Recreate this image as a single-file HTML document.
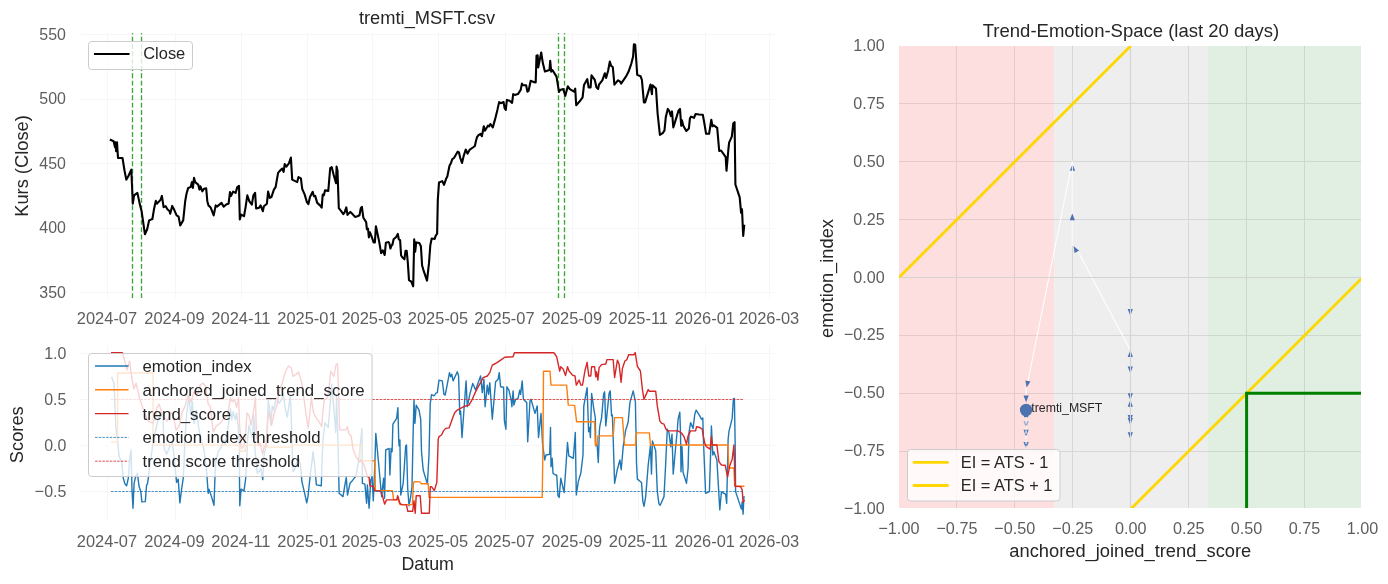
<!DOCTYPE html>
<html><head><meta charset="utf-8"><title>tremti_MSFT</title>
<style>html,body{margin:0;padding:0;background:#fff;}body{width:1388px;height:584px;overflow:hidden;font-family:"Liberation Sans",sans-serif;}svg{display:block;}</style>
</head><body>
<svg width="1388" height="584" viewBox="0 0 1388 584" font-family="Liberation Sans, sans-serif">
<rect width="1388" height="584" fill="#fff"/>
<g filter="url(#noop)">
<defs>
<filter id="noop" filterUnits="userSpaceOnUse" x="0" y="0" width="1388" height="584"><feOffset dx="0" dy="0"/></filter>
<clipPath id="c1"><rect x="81" y="33" width="694" height="265"/></clipPath>
<clipPath id="c2"><rect x="81" y="346" width="694" height="175"/></clipPath>
<clipPath id="c3"><rect x="899" y="46" width="462" height="462"/></clipPath>
</defs>
<g stroke="#f6f6f6" stroke-width="1">
<line x1="107.5" y1="33" x2="107.5" y2="298"/>
<line x1="175.5" y1="33" x2="175.5" y2="298"/>
<line x1="241.5" y1="33" x2="241.5" y2="298"/>
<line x1="307.5" y1="33" x2="307.5" y2="298"/>
<line x1="372.5" y1="33" x2="372.5" y2="298"/>
<line x1="438.5" y1="33" x2="438.5" y2="298"/>
<line x1="505.5" y1="33" x2="505.5" y2="298"/>
<line x1="572.5" y1="33" x2="572.5" y2="298"/>
<line x1="638.5" y1="33" x2="638.5" y2="298"/>
<line x1="705.5" y1="33" x2="705.5" y2="298"/>
<line x1="769.5" y1="33" x2="769.5" y2="298"/>
<line x1="81" y1="292.5" x2="775" y2="292.5"/>
<line x1="81" y1="228.5" x2="775" y2="228.5"/>
<line x1="81" y1="163.5" x2="775" y2="163.5"/>
<line x1="81" y1="99.5" x2="775" y2="99.5"/>
<line x1="81" y1="34.5" x2="775" y2="34.5"/>
</g>
<g stroke="#2ca02c" stroke-opacity="0.93" stroke-width="1.35" stroke-dasharray="4.9,2.43" stroke-dashoffset="3.63" clip-path="url(#c1)">
<line x1="132.5" y1="33" x2="132.5" y2="298"/>
<line x1="141.5" y1="33" x2="141.5" y2="298"/>
<line x1="558.5" y1="33" x2="558.5" y2="298"/>
<line x1="564.5" y1="33" x2="564.5" y2="298"/>
</g>
<path d="M110.8,140.0 L113.6,141.3 L115.0,147.2 L115.5,142.2 L116.1,151.3 L117.0,142.2 L118.0,158.0 L122.5,158.0 L124.5,170.5 L126.3,179.6 L128.3,176.3 L131.3,169.6 L132.8,203.7 L134.1,195.4 L137.4,192.9 L139.9,204.6 L141.6,211.2 L144.9,234.2 L147.1,229.5 L149.1,220.4 L152.4,219.0 L154.1,208.7 L155.8,200.9 L156.9,203.7 L160.7,199.6 L161.9,195.9 L163.6,207.1 L165.7,206.2 L167.4,209.2 L169.6,211.2 L170.2,213.7 L172.2,205.9 L174.1,209.6 L176.6,215.4 L178.6,216.6 L180.2,225.4 L183.2,220.4 L185.2,201.2 L186.5,193.8 L188.2,187.9 L190.7,187.1 L191.9,182.1 L192.9,187.9 L194.0,177.9 L195.2,182.1 L198.2,184.6 L199.4,189.6 L200.4,186.3 L202.4,191.3 L204.0,188.8 L206.2,188.4 L207.3,201.2 L208.5,205.4 L210.7,207.6 L213.7,215.4 L215.7,205.4 L217.0,206.6 L221.5,202.9 L223.7,206.7 L226.5,204.2 L228.6,203.7 L230.0,192.1 L231.1,195.9 L233.1,191.6 L235.6,192.9 L237.3,187.1 L239.0,185.9 L239.8,219.5 L241.1,214.6 L244.0,216.2 L245.6,207.1 L247.3,195.4 L249.3,201.2 L251.8,204.6 L253.4,195.4 L255.1,192.9 L256.1,208.4 L258.9,207.9 L260.6,205.4 L262.8,211.2 L263.9,206.2 L266.9,203.7 L268.1,191.6 L269.8,197.9 L271.4,197.1 L273.9,189.6 L275.6,187.1 L278.1,172.9 L280.6,170.0 L282.2,168.5 L283.6,171.8 L284.7,164.1 L286.4,166.6 L288.9,163.3 L290.9,157.6 L292.2,179.6 L297.2,182.1 L298.5,177.1 L300.9,178.4 L302.2,188.8 L304.7,194.6 L306.9,202.1 L308.4,204.1 L310.0,197.1 L312.7,191.8 L313.9,196.2 L315.2,195.9 L317.2,202.9 L320.0,205.4 L321.7,207.6 L322.7,194.6 L323.8,195.4 L325.0,190.4 L328.3,190.9 L330.2,168.0 L330.3,168.3 L331.7,167.1 L333.7,175.0 L336.0,183.3 L336.6,166.6 L337.5,170.8 L338.8,208.2 L340.8,210.7 L343.3,214.1 L344.6,212.4 L346.3,207.4 L347.5,214.9 L350.3,211.9 L352.5,214.1 L355.0,216.9 L357.5,216.2 L359.5,215.2 L360.8,208.2 L361.9,206.9 L363.3,217.4 L363.4,217.7 L366.2,222.3 L366.9,229.3 L368.0,228.5 L368.9,237.4 L370.0,232.3 L372.0,237.7 L373.6,242.4 L374.9,242.4 L375.9,226.2 L377.4,233.1 L379.3,242.4 L381.1,253.2 L382.8,250.4 L384.7,255.0 L385.9,242.7 L388.5,242.1 L389.3,243.1 L390.4,248.5 L391.6,245.4 L392.4,244.7 L393.6,239.3 L396.2,237.0 L397.8,233.9 L398.8,239.3 L400.1,240.1 L401.1,255.5 L402.8,257.8 L404.4,259.3 L405.5,250.8 L406.7,250.8 L407.8,262.4 L409.0,280.1 L411.3,281.7 L413.2,286.3 L414.2,239.3 L415.2,251.6 L416.2,242.4 L419.3,243.1 L420.9,246.2 L422.1,265.5 L423.2,269.3 L427.0,280.6 L429.0,263.2 L430.3,245.4 L431.7,238.5 L434.7,239.0 L435.8,235.4 L437.1,233.9 L437.8,199.9 L439.0,182.5 L442.3,181.1 L444.0,184.9 L446.0,179.1 L447.3,176.6 L449.5,165.8 L451.0,163.0 L452.3,159.2 L454.0,158.0 L457.6,151.7 L459.0,152.5 L460.1,157.5 L462.0,163.0 L463.6,156.2 L465.7,149.6 L466.5,151.1 L467.5,153.7 L469.8,149.6 L472.9,147.5 L474.9,146.0 L476.0,140.8 L477.0,137.2 L478.5,135.2 L480.6,133.8 L481.9,136.2 L483.8,126.2 L484.9,130.7 L487.9,125.7 L489.1,126.5 L490.4,124.0 L492.8,127.4 L494.9,119.9 L497.4,109.9 L499.1,102.1 L500.8,103.2 L503.6,102.1 L504.6,108.2 L505.8,109.9 L506.9,99.9 L509.6,100.7 L512.1,102.9 L513.2,94.1 L514.9,94.9 L517.9,94.1 L520.7,89.9 L521.9,83.6 L523.2,85.3 L526.1,85.3 L527.4,91.6 L528.6,90.8 L530.7,80.8 L533.2,81.9 L535.7,82.4 L536.5,55.8 L537.7,55.3 L538.2,67.5 L541.2,52.5 L542.9,63.3 L544.9,71.6 L549.5,70.0 L550.2,60.8 L551.2,71.6 L552.4,70.0 L556.5,76.6 L559.0,91.9 L560.2,89.9 L563.2,89.1 L565.3,95.8 L567.8,86.3 L569.8,89.1 L574.0,91.6 L575.2,88.6 L576.2,105.2 L580.6,100.2 L582.6,97.4 L584.0,84.9 L587.3,79.1 L588.6,87.4 L590.6,87.4 L591.5,75.3 L594.8,79.9 L596.5,87.4 L598.1,89.1 L599.0,84.6 L602.3,80.3 L604.8,73.3 L606.1,77.9 L608.1,70.8 L609.8,61.6 L611.1,65.8 L612.8,67.0 L614.4,84.6 L618.1,80.3 L619.8,81.3 L621.1,83.6 L626.4,75.8 L628.6,71.6 L631.4,63.3 L633.1,56.6 L633.9,44.2 L635.2,44.7 L636.4,62.5 L637.2,74.9 L640.6,76.3 L641.9,79.9 L643.9,102.4 L645.1,102.4 L650.5,84.6 L651.9,94.1 L652.5,85.3 L656.0,88.6 L657.6,113.5 L659.9,134.9 L662.7,133.2 L664.5,130.4 L665.8,117.1 L667.8,108.9 L669.4,111.4 L670.9,116.1 L672.0,111.4 L673.3,127.4 L675.0,122.2 L678.6,110.4 L680.0,108.9 L681.2,125.8 L681.9,120.2 L683.3,125.8 L686.3,131.0 L688.9,128.4 L689.9,118.6 L691.0,116.6 L694.0,117.8 L695.6,114.0 L699.2,114.5 L702.8,114.7 L704.1,121.7 L706.1,133.8 L709.1,133.8 L711.3,119.7 L712.5,126.3 L713.8,125.3 L717.2,127.9 L719.2,151.0 L721.0,150.5 L724.0,154.6 L725.7,157.1 L726.5,170.8 L728.3,150.3 L729.1,142.6 L731.8,136.6 L733.3,123.3 L734.6,122.2 L735.1,162.3 L735.4,184.5 L739.7,197.4 L741.1,212.8 L742.0,209.3 L743.2,235.9 L744.2,225.6" fill="none" stroke="#000" stroke-width="2.1" stroke-linejoin="round" stroke-linecap="square" clip-path="url(#c1)"/>
<text transform="translate(65.9,297.9) scale(0.95,1)" font-size="16.8" fill="#5e5e5e" text-anchor="end">350</text>
<text transform="translate(65.9,233.4) scale(0.95,1)" font-size="16.8" fill="#5e5e5e" text-anchor="end">400</text>
<text transform="translate(65.9,168.9) scale(0.95,1)" font-size="16.8" fill="#5e5e5e" text-anchor="end">450</text>
<text transform="translate(65.9,104.4) scale(0.95,1)" font-size="16.8" fill="#5e5e5e" text-anchor="end">500</text>
<text transform="translate(65.9,39.9) scale(0.95,1)" font-size="16.8" fill="#5e5e5e" text-anchor="end">550</text>
<text transform="translate(107.0,324.0) scale(0.978,1)" font-size="16.8" fill="#5e5e5e" text-anchor="middle">2024-07</text>
<text transform="translate(174.5,324.0) scale(0.978,1)" font-size="16.8" fill="#5e5e5e" text-anchor="middle">2024-09</text>
<text transform="translate(240.9,324.0) scale(0.978,1)" font-size="16.8" fill="#5e5e5e" text-anchor="middle">2024-11</text>
<text transform="translate(307.4,324.0) scale(0.978,1)" font-size="16.8" fill="#5e5e5e" text-anchor="middle">2025-01</text>
<text transform="translate(371.6,324.0) scale(0.978,1)" font-size="16.8" fill="#5e5e5e" text-anchor="middle">2025-03</text>
<text transform="translate(438.0,324.0) scale(0.978,1)" font-size="16.8" fill="#5e5e5e" text-anchor="middle">2025-05</text>
<text transform="translate(504.4,324.0) scale(0.978,1)" font-size="16.8" fill="#5e5e5e" text-anchor="middle">2025-07</text>
<text transform="translate(572.0,324.0) scale(0.978,1)" font-size="16.8" fill="#5e5e5e" text-anchor="middle">2025-09</text>
<text transform="translate(638.4,324.0) scale(0.978,1)" font-size="16.8" fill="#5e5e5e" text-anchor="middle">2025-11</text>
<text transform="translate(704.8,324.0) scale(0.978,1)" font-size="16.8" fill="#5e5e5e" text-anchor="middle">2026-01</text>
<text transform="translate(769.1,324.0) scale(0.978,1)" font-size="16.8" fill="#5e5e5e" text-anchor="middle">2026-03</text>
<text x="427" y="24" font-size="18.3" fill="#262626" text-anchor="middle">tremti_MSFT.csv</text>
<text transform="translate(28,166) rotate(-90)" font-size="18.3" fill="#262626" text-anchor="middle">Kurs (Close)</text>
<rect x="88.5" y="41.5" width="104" height="28" rx="3.3" fill="#fff" fill-opacity="0.8" stroke="#cccccc" stroke-width="1"/>
<line x1="95" y1="54" x2="128.5" y2="54" stroke="#000" stroke-width="2.1" stroke-linecap="square"/>
<text transform="translate(143.2,58.9) scale(0.98,1)" font-size="16.8" fill="#262626" text-anchor="start">Close</text>
<g stroke="#f6f6f6" stroke-width="1">
<line x1="107.5" y1="346" x2="107.5" y2="521"/>
<line x1="175.5" y1="346" x2="175.5" y2="521"/>
<line x1="241.5" y1="346" x2="241.5" y2="521"/>
<line x1="307.5" y1="346" x2="307.5" y2="521"/>
<line x1="372.5" y1="346" x2="372.5" y2="521"/>
<line x1="438.5" y1="346" x2="438.5" y2="521"/>
<line x1="505.5" y1="346" x2="505.5" y2="521"/>
<line x1="572.5" y1="346" x2="572.5" y2="521"/>
<line x1="638.5" y1="346" x2="638.5" y2="521"/>
<line x1="705.5" y1="346" x2="705.5" y2="521"/>
<line x1="769.5" y1="346" x2="769.5" y2="521"/>
<line x1="81" y1="491.5" x2="775" y2="491.5"/>
<line x1="81" y1="445.5" x2="775" y2="445.5"/>
<line x1="81" y1="399.5" x2="775" y2="399.5"/>
<line x1="81" y1="353.5" x2="775" y2="353.5"/>
</g>
<g clip-path="url(#c2)" fill="none" stroke-linejoin="round">
<path d="M111.6,376.8 L114.1,383.4 L115.8,426.7 L117.5,440.0 L119.1,456.6 L121.6,461.6 L123.3,478.3 L125.0,484.1 L126.6,485.8 L128.3,478.3 L130.0,456.6 L131.1,450.0 L132.0,489.9 L133.0,508.2 L134.1,483.3 L135.8,475.8 L137.4,473.3 L139.1,486.6 L140.8,491.6 L141.9,501.9 L145.3,501.6 L146.6,484.9 L147.4,484.1 L148.6,476.3 L149.9,465.0 L151.6,453.3 L153.3,440.0 L155.8,430.0 L158.2,418.4 L162.9,413.4 L163.7,436.7 L164.1,448.3 L166.6,454.1 L169.9,446.7 L172.4,443.3 L174.1,456.6 L175.7,473.3 L176.6,482.4 L178.2,479.1 L179.9,502.9 L181.5,489.9 L183.2,478.3 L184.0,465.0 L184.9,440.0 L186.5,415.0 L189.0,396.7 L190.7,415.0 L192.4,401.7 L194.0,423.4 L196.5,410.0 L199.0,430.0 L201.5,440.0 L204.0,450.0 L206.5,470.0 L208.2,493.3 L209.0,489.1 L211.5,496.6 L214.0,505.2 L214.8,481.6 L215.7,461.6 L218.2,451.6 L221.5,446.7 L224.0,440.0 L225.0,444.4 L229.1,421.1 L230.5,408.8 L231.8,419.7 L233.2,411.5 L235.3,419.7 L236.6,412.9 L238.0,425.2 L239.4,444.4 L239.5,480.8 L239.8,505.7 L241.0,489.1 L244.0,490.8 L245.6,479.1 L246.5,462.0 L247.6,438.9 L249.0,425.2 L250.3,432.0 L252.4,437.5 L253.8,415.6 L254.5,425.2 L255.0,450.0 L257.3,473.3 L258.9,471.6 L260.6,468.3 L262.8,479.6 L263.9,456.6 L266.1,445.0 L267.5,426.6 L268.2,400.5 L269.5,407.4 L270.9,425.2 L272.3,406.0 L273.6,410.1 L276.4,397.8 L279.1,403.3 L281.8,399.2 L283.2,393.7 L285.3,408.8 L287.3,417.0 L288.7,407.4 L290.1,396.4 L290.8,404.7 L291.5,425.2 L292.2,450.0 L293.1,471.6 L295.6,467.5 L298.0,456.6 L300.5,465.0 L301.9,481.6 L304.7,493.3 L306.7,502.9 L308.0,496.6 L310.5,472.5 L312.2,460.0 L313.0,451.6 L314.7,465.8 L316.4,484.9 L321.3,485.8 L322.2,456.6 L323.0,440.0 L325.0,422.6 L328.3,427.5 L331.7,384.3 L334.2,412.6 L335.8,432.5 L336.6,395.9 L338.0,443.0 L338.8,478.3 L339.1,493.3 L343.0,496.6 L344.6,486.6 L346.3,477.5 L347.5,495.0 L350.0,483.3 L351.6,481.6 L354.1,478.3 L355.8,476.3 L358.3,463.3 L360.8,440.0 L361.9,428.4 L362.4,483.3 L364.9,484.1 L366.6,503.3 L367.4,485.0 L369.1,508.3 L370.8,480.0 L372.1,476.6 L373.3,500.8 L374.9,463.3 L375.8,433.4 L378.3,460.0 L381.6,496.6 L383.6,478.3 L384.6,498.3 L385.7,450.0 L389.1,448.4 L389.9,475.0 L391.1,448.4 L392.1,451.7 L392.9,424.2 L396.6,418.4 L397.9,407.6 L398.7,439.2 L399.1,445.9 L399.9,440.0 L400.7,495.0 L403.2,483.3 L405.7,445.9 L406.5,445.0 L407.7,488.3 L409.0,505.8 L410.7,496.6 L412.0,486.6 L413.2,430.0 L414.0,400.1 L414.9,423.4 L416.2,405.1 L419.0,410.1 L420.7,419.2 L421.5,451.7 L423.2,470.0 L427.4,484.1 L429.0,455.0 L430.2,404.2 L431.5,394.6 L434.0,395.9 L436.2,392.9 L437.3,392.6 L439.0,380.1 L442.3,380.9 L444.0,394.3 L445.2,395.1 L449.5,372.6 L450.7,376.8 L451.8,374.3 L453.1,380.9 L457.3,371.8 L458.6,376.0 L459.8,414.2 L460.6,410.9 L462.0,437.5 L464.0,409.2 L466.1,380.9 L467.3,406.7 L469.8,394.3 L472.8,383.4 L475.6,390.1 L480.6,376.0 L482.3,392.6 L483.9,379.3 L485.1,406.7 L487.3,385.1 L488.6,394.3 L489.8,382.6 L492.3,419.2 L495.6,381.8 L498.1,379.3 L499.2,372.6 L500.6,386.8 L503.6,387.3 L504.4,420.9 L505.9,429.2 L506.9,386.8 L508.9,390.1 L511.1,399.3 L511.9,406.7 L513.1,390.9 L513.9,405.1 L515.6,399.3 L518.1,398.4 L519.7,390.1 L520.6,394.3 L522.2,380.9 L523.4,399.3 L526.7,402.6 L527.7,441.7 L528.4,429.2 L530.0,400.9 L531.0,399.3 L535.0,413.4 L537.2,405.9 L538.5,437.5 L541.0,413.4 L542.5,443.0 L544.7,460.0 L546.0,455.0 L549.7,454.2 L550.5,427.5 L551.0,466.7 L552.2,458.3 L553.0,473.3 L555.5,475.0 L556.7,475.0 L558.0,495.8 L559.2,497.4 L560.8,478.3 L564.1,492.5 L565.8,468.3 L567.5,442.5 L568.8,455.8 L573.3,458.3 L575.3,432.5 L576.3,495.0 L578.3,481.6 L580.8,473.3 L583.0,455.0 L583.8,405.9 L587.1,387.6 L588.6,431.7 L589.6,427.5 L590.4,437.5 L591.6,393.4 L593.6,407.6 L595.3,417.6 L595.8,445.9 L597.1,444.2 L598.3,462.5 L599.4,430.0 L599.9,425.9 L601.6,417.6 L603.6,394.3 L604.6,391.8 L605.8,425.9 L609.1,393.4 L610.2,390.9 L611.6,415.9 L612.4,415.1 L613.2,439.2 L614.6,483.3 L617.4,469.2 L619.9,460.0 L621.2,469.7 L623.2,446.7 L625.7,430.0 L626.6,427.5 L628.2,421.7 L629.9,402.6 L633.2,390.9 L635.4,401.8 L636.2,443.0 L636.5,463.3 L637.4,479.1 L641.5,482.5 L642.9,501.6 L644.0,506.3 L645.7,496.6 L648.2,465.0 L650.4,445.9 L651.5,474.1 L652.4,440.9 L655.7,450.8 L657.3,491.6 L659.0,504.1 L660.2,505.3 L664.0,496.6 L665.7,463.3 L667.3,429.2 L669.0,432.5 L670.7,446.7 L672.0,434.2 L673.2,474.1 L675.7,446.7 L677.3,430.0 L678.1,419.2 L679.8,412.2 L680.6,435.9 L681.0,471.7 L682.0,446.7 L683.1,472.5 L686.5,483.3 L688.1,468.3 L689.0,432.5 L690.6,422.6 L693.1,428.4 L694.8,414.2 L696.1,410.1 L699.8,415.9 L701.4,419.2 L702.8,417.9 L703.4,439.2 L705.6,493.3 L709.4,491.6 L711.1,438.4 L711.4,425.9 L712.8,455.0 L713.9,451.7 L716.9,460.0 L719.8,509.9 L721.4,492.0 L725.6,494.1 L726.7,503.3 L728.1,440.0 L728.9,431.7 L732.2,418.4 L733.4,398.9 L734.4,398.4 L735.2,445.9 L735.6,491.6 L741.4,509.1 L742.2,501.6 L743.1,514.1 L743.9,496.6 L744.7,496.6" stroke="#1f77b4" stroke-width="1.4"/>
<path d="M111.0,442.1 L117.6,442.1 L117.6,373.0 L153.1,373.0 L153.1,445.1 L239.2,445.1 L240.2,451.2 L245.2,451.2 L245.2,445.1 L267.4,445.1 L267.4,447.1 L291.3,447.1 L291.3,445.1 L360.4,445.1 L359.9,445.0 L359.9,460.8 L374.9,460.8 L375.4,490.7 L392.4,490.7 L393.6,499.6 L398.2,499.6 L399.9,504.6 L412.4,504.6 L413.5,482.4 L414.9,481.6 L419.9,481.9 L421.5,483.8 L428.2,483.8 L429.0,497.4 L542.2,497.4 L543.0,443.0 L543.5,371.3 L550.0,371.3 L551.0,385.1 L551.3,385.1 L566.6,385.1 L568.3,405.1 L574.6,405.4 L576.6,421.7 L594.6,421.7 L595.3,445.0 L597.1,445.0 L597.9,435.9 L613.2,435.9 L614.6,417.6 L622.4,417.6 L624.6,445.0 L635.4,445.0 L636.2,432.9 L649.4,432.9 L650.4,445.0 L728.1,445.0 L728.6,468.0 L733.9,468.0 L734.7,486.3 L744.4,486.3" stroke="#ff7f0e" stroke-width="1.4"/>
<path d="M111.0,352.6 L122.4,352.6 L125.0,362.0 L127.0,370.0 L129.6,361.0 L132.0,379.0 L134.0,389.1 L136.1,383.1 L139.1,396.1 L142.1,406.1 L145.1,414.1 L148.1,421.1 L153.1,423.1 L155.1,418.1 L156.7,408.1 L159.1,404.1 L162.1,414.1 L167.1,421.1 L171.1,412.1 L173.1,415.1 L176.1,430.1 L179.1,426.1 L182.1,412.1 L185.1,406.1 L188.1,395.1 L191.1,402.1 L193.7,392.1 L197.1,396.1 L200.1,385.1 L203.1,383.1 L205.6,386.1 L208.2,404.1 L210.2,406.1 L213.2,432.1 L216.2,426.1 L220.2,423.1 L224.2,418.1 L227.7,414.2 L230.5,397.8 L232.5,401.9 L234.6,399.2 L236.6,407.4 L238.7,397.8 L239.4,421.1 L240.8,445.8 L242.1,448.5 L244.2,444.4 L245.5,437.5 L246.9,412.9 L249.0,415.6 L251.0,425.2 L252.4,418.4 L254.5,404.7 L255.4,397.8 L256.5,434.8 L258.6,445.8 L259.9,443.0 L261.3,448.5 L262.7,454.0 L264.0,447.1 L266.1,445.8 L267.5,421.1 L268.8,411.5 L271.6,425.2 L274.3,412.9 L277.1,404.7 L279.8,388.2 L282.3,383.1 L285.3,372.0 L288.3,366.0 L291.3,368.0 L293.2,376.4 L298.6,372.1 L301.8,382.8 L303.9,397.8 L306.1,414.9 L308.2,427.8 L310.3,408.5 L311.4,397.8 L313.5,412.8 L315.7,417.1 L318.9,421.4 L321.7,426.7 L323.2,408.5 L324.2,399.9 L327.5,397.8 L329.6,382.8 L330.7,371.1 L333.9,376.4 L336.0,364.6 L337.5,363.6 L338.8,397.8 L339.7,429.9 L345.7,429.9 L347.4,426.7 L348.9,434.2 L351.0,435.3 L353.1,449.2 L356.4,457.7 L359.6,462.0 L360.6,459.9 L363.9,464.2 L367.4,476.6 L369.1,477.4 L369.9,485.8 L373.3,486.6 L374.9,490.7 L380.8,491.2 L382.4,495.7 L384.6,504.1 L386.6,499.9 L396.6,499.9 L397.7,495.7 L399.9,503.2 L401.6,504.6 L406.5,504.9 L407.7,511.2 L412.7,511.2 L414.0,500.7 L415.2,513.2 L416.2,495.7 L420.2,495.7 L421.5,513.2 L429.3,513.2 L430.3,486.6 L431.5,486.6 L434.3,490.7 L436.8,482.4 L438.2,439.2 L439.0,436.7 L441.5,435.0 L443.5,430.9 L445.7,428.4 L449.0,427.9 L450.7,423.4 L452.8,417.6 L454.8,412.6 L457.3,410.1 L460.6,408.4 L464.8,406.2 L469.0,405.1 L472.3,399.3 L474.8,393.4 L477.3,388.4 L480.6,382.6 L483.1,377.6 L487.3,376.0 L489.8,372.6 L492.3,365.1 L495.6,363.5 L498.1,361.8 L501.4,359.6 L504.7,357.3 L513.1,356.8 L514.4,352.7 L553.0,352.7 L554.2,353.0 L556.7,356.8 L559.7,371.0 L560.8,366.8 L563.3,369.3 L565.5,375.6 L567.5,366.8 L569.1,371.0 L572.5,375.1 L575.0,376.0 L576.3,385.1 L579.1,380.1 L580.8,385.1 L582.5,385.1 L584.9,371.0 L587.1,362.3 L588.8,376.0 L590.8,376.0 L591.6,366.8 L594.6,366.8 L595.8,376.8 L596.6,371.8 L597.9,380.1 L599.1,367.6 L601.6,364.6 L605.8,364.0 L606.9,359.6 L613.2,359.6 L614.6,377.6 L617.4,360.1 L619.1,364.3 L621.1,382.3 L622.4,368.5 L624.9,361.0 L626.9,359.6 L628.6,354.7 L634.0,354.7 L635.2,352.7 L637.4,366.3 L640.4,371.0 L642.4,389.3 L644.0,399.3 L648.2,389.6 L649.5,391.3 L655.7,391.3 L657.3,405.9 L659.8,420.9 L661.8,423.4 L664.0,424.2 L666.0,429.2 L668.2,430.9 L678.1,430.9 L681.5,433.0 L684.0,436.7 L686.5,444.2 L688.1,435.9 L690.6,430.9 L695.6,430.9 L696.5,426.7 L699.0,427.2 L702.3,429.2 L702.8,433.4 L704.8,443.4 L706.4,446.7 L710.1,449.2 L711.4,436.7 L712.3,445.0 L716.9,445.0 L718.9,461.7 L721.4,465.0 L725.2,465.3 L727.6,477.0 L729.7,465.8 L732.2,459.2 L733.9,445.0 L735.2,486.3 L740.6,486.6 L742.2,490.0 L743.1,502.4 L744.4,499.9" stroke="#d62728" stroke-width="1.4"/>
<line x1="111" y1="491.5" x2="744" y2="491.5" stroke="#1f77b4" stroke-width="0.8" stroke-dasharray="2.57,1.11"/>
<line x1="111" y1="399.5" x2="744" y2="399.5" stroke="#d62728" stroke-width="0.8" stroke-dasharray="2.57,1.11"/>
</g>
<text transform="translate(66.3,497.3) scale(0.95,1)" font-size="16.8" fill="#5e5e5e" text-anchor="end">−0.5</text>
<text transform="translate(66.3,451.3) scale(0.95,1)" font-size="16.8" fill="#5e5e5e" text-anchor="end">0.0</text>
<text transform="translate(66.3,405.3) scale(0.95,1)" font-size="16.8" fill="#5e5e5e" text-anchor="end">0.5</text>
<text transform="translate(66.3,359.3) scale(0.95,1)" font-size="16.8" fill="#5e5e5e" text-anchor="end">1.0</text>
<text transform="translate(107.0,547.0) scale(0.978,1)" font-size="16.8" fill="#5e5e5e" text-anchor="middle">2024-07</text>
<text transform="translate(174.5,547.0) scale(0.978,1)" font-size="16.8" fill="#5e5e5e" text-anchor="middle">2024-09</text>
<text transform="translate(240.9,547.0) scale(0.978,1)" font-size="16.8" fill="#5e5e5e" text-anchor="middle">2024-11</text>
<text transform="translate(307.4,547.0) scale(0.978,1)" font-size="16.8" fill="#5e5e5e" text-anchor="middle">2025-01</text>
<text transform="translate(371.6,547.0) scale(0.978,1)" font-size="16.8" fill="#5e5e5e" text-anchor="middle">2025-03</text>
<text transform="translate(438.0,547.0) scale(0.978,1)" font-size="16.8" fill="#5e5e5e" text-anchor="middle">2025-05</text>
<text transform="translate(504.4,547.0) scale(0.978,1)" font-size="16.8" fill="#5e5e5e" text-anchor="middle">2025-07</text>
<text transform="translate(572.0,547.0) scale(0.978,1)" font-size="16.8" fill="#5e5e5e" text-anchor="middle">2025-09</text>
<text transform="translate(638.4,547.0) scale(0.978,1)" font-size="16.8" fill="#5e5e5e" text-anchor="middle">2025-11</text>
<text transform="translate(704.8,547.0) scale(0.978,1)" font-size="16.8" fill="#5e5e5e" text-anchor="middle">2026-01</text>
<text transform="translate(769.1,547.0) scale(0.978,1)" font-size="16.8" fill="#5e5e5e" text-anchor="middle">2026-03</text>
<text transform="translate(427.7,569.7) scale(0.975,1)" font-size="18.3" fill="#262626" text-anchor="middle">Datum</text>
<text transform="translate(23.1,434.7) rotate(-90)" font-size="18.3" fill="#262626" text-anchor="middle">Scores</text>
<rect x="88.5" y="353.5" width="283.5" height="123" rx="3.3" fill="#fff" fill-opacity="0.8" stroke="#cccccc" stroke-width="1"/>
<line x1="95" y1="366.0" x2="128.5" y2="366.0" stroke="#1f77b4" stroke-width="1.4"/>
<text x="142.5" y="371.8" font-size="16.8" fill="#262626">emotion_index</text>
<line x1="95" y1="389.8" x2="128.5" y2="389.8" stroke="#ff7f0e" stroke-width="1.4"/>
<text x="142.5" y="395.6" font-size="16.8" fill="#262626">anchored_joined_trend_score</text>
<line x1="95" y1="413.6" x2="128.5" y2="413.6" stroke="#d62728" stroke-width="1.4"/>
<text x="142.5" y="420.4" font-size="16.8" fill="#262626">trend_score</text>
<line x1="95" y1="437.4" x2="128.5" y2="437.4" stroke="#1f77b4" stroke-width="0.8" stroke-dasharray="2.57,1.11"/>
<text x="142.5" y="443.2" font-size="16.8" fill="#262626">emotion index threshold</text>
<line x1="95" y1="461.2" x2="128.5" y2="461.2" stroke="#d62728" stroke-width="0.8" stroke-dasharray="2.57,1.11"/>
<text x="142.5" y="467.0" font-size="16.8" fill="#262626">trend score threshold</text>
<rect x="899" y="46" width="462" height="462" fill="#fff"/>
<rect x="899" y="46" width="155.2" height="462" fill="#fedfdf"/>
<rect x="1054.2" y="46" width="153.0" height="462" fill="#eeeeee"/>
<rect x="1207.2" y="46" width="153.8" height="462" fill="#e0efe1"/>
<g clip-path="url(#c3)">
<g stroke="#000" opacity="0.09" stroke-width="1">
<line x1="956.5" y1="46" x2="956.5" y2="508"/>
<line x1="899" y1="451.5" x2="1361" y2="451.5"/>
<line x1="1014.5" y1="46" x2="1014.5" y2="508"/>
<line x1="899" y1="393.5" x2="1361" y2="393.5"/>
<line x1="1072.5" y1="46" x2="1072.5" y2="508"/>
<line x1="899" y1="335.5" x2="1361" y2="335.5"/>
<line x1="1130.5" y1="46" x2="1130.5" y2="508"/>
<line x1="899" y1="277.5" x2="1361" y2="277.5"/>
<line x1="1188.5" y1="46" x2="1188.5" y2="508"/>
<line x1="899" y1="219.5" x2="1361" y2="219.5"/>
<line x1="1246.5" y1="46" x2="1246.5" y2="508"/>
<line x1="899" y1="161.5" x2="1361" y2="161.5"/>
<line x1="1304.5" y1="46" x2="1304.5" y2="508"/>
<line x1="899" y1="103.5" x2="1361" y2="103.5"/>
</g>
<g stroke="#fff" stroke-width="1.1" fill="none" stroke-opacity="0.95">
<path d="M1130.2,350 L1076.5,248.5"/>
<path d="M1072.3,246 L1072.3,164"/>
<path d="M1072.4,161 L1028,381"/>
<path d="M1026.1,387 L1026.1,395"/>
</g>
<path d="M1130.3,315.7 L1127.7,308.9 L1132.9,308.9Z" fill="#4c72b0" fill-opacity="1"/>
<path d="M1130.3,373.2 L1127.7,366.4 L1132.9,366.4Z" fill="#4c72b0" fill-opacity="1"/>
<path d="M1130.3,400.0 L1127.7,393.2 L1132.9,393.2Z" fill="#4c72b0" fill-opacity="1"/>
<path d="M1130.3,421.8 L1127.7,415.0 L1132.9,415.0Z" fill="#4c72b0" fill-opacity="1"/>
<path d="M1130.3,424.9 L1127.7,418.1 L1132.9,418.1Z" fill="#4c72b0" fill-opacity="1"/>
<path d="M1130.3,439.1 L1127.7,432.3 L1132.9,432.3Z" fill="#4c72b0" fill-opacity="1"/>
<path d="M1130.3,350.3 L1132.9,357.1 L1127.7,357.1Z" fill="#4c72b0" fill-opacity="1"/>
<path d="M1130.3,399.9 L1132.9,406.7 L1127.7,406.7Z" fill="#4c72b0" fill-opacity="1"/>
<path d="M1073.6,245.9 L1079.1,250.7 L1074.5,253.1Z" fill="#4c72b0" fill-opacity="1"/>
<path d="M1072.3,213.5 L1074.9,220.3 L1069.7,220.3Z" fill="#4c72b0" fill-opacity="1"/>
<path d="M1072.5,163.9 L1075.1,170.7 L1069.9,170.7Z" fill="#4c72b0" fill-opacity="1"/>
<path d="M1026.6,387.5 L1025.4,380.4 L1030.5,381.4Z" fill="#4c72b0" fill-opacity="1"/>
<path d="M1026.1,402.3 L1023.5,395.5 L1028.7,395.5Z" fill="#4c72b0" fill-opacity="1"/>
<path d="M1026.1,428.1 L1023.5,421.3 L1028.7,421.3Z" fill="#4c72b0" fill-opacity="0.55"/>
<path d="M1026.1,436.6 L1023.5,429.8 L1028.7,429.8Z" fill="#4c72b0" fill-opacity="1"/>
<path d="M1026.1,448.9 L1023.5,442.1 L1028.7,442.1Z" fill="#4c72b0" fill-opacity="1"/>
<path d="M1026.1,415 L1026.1,450" stroke="#fff" stroke-width="1.3" stroke-opacity="0.9" stroke-dasharray="3.5,1.6"/>
<path d="M1072.4,163 L1072.4,171" stroke="#fff" stroke-width="1" stroke-opacity="0.9"/>
<line x1="1130.5" y1="46" x2="1130.5" y2="508" stroke="#d3d3d3" stroke-width="1.1"/>
<line x1="899" y1="277.5" x2="1361" y2="277.5" stroke="#d3d3d3" stroke-width="1.1"/>
<line x1="898.9" y1="277.5" x2="1130.7" y2="45.9" stroke="#ffd700" stroke-width="2.8"/>
<line x1="1130.7" y1="509.1" x2="1362.5" y2="277.5" stroke="#ffd700" stroke-width="2.8"/>
<path d="M1246.6,509.1 L1246.6,393.3 L1362.5,393.3" fill="none" stroke="#008000" stroke-width="3" stroke-linejoin="miter"/>
<rect x="1024" y="414" width="4.2" height="3.2" fill="#4c72b0"/>
<circle cx="1026.1" cy="410" r="6.2" fill="#4c72b0"/>
<text x="1031.3" y="411.6" font-size="12.3" fill="#262626">tremti_MSFT</text>
</g>
<text transform="translate(884.6,514.1) scale(0.958,1)" font-size="16.8" fill="#5e5e5e" text-anchor="end">−1.00</text>
<text transform="translate(884.6,456.2) scale(0.958,1)" font-size="16.8" fill="#5e5e5e" text-anchor="end">−0.75</text>
<text transform="translate(884.6,398.3) scale(0.958,1)" font-size="16.8" fill="#5e5e5e" text-anchor="end">−0.50</text>
<text transform="translate(884.6,340.4) scale(0.958,1)" font-size="16.8" fill="#5e5e5e" text-anchor="end">−0.25</text>
<text transform="translate(884.6,282.5) scale(0.958,1)" font-size="16.8" fill="#5e5e5e" text-anchor="end">0.00</text>
<text transform="translate(884.6,224.6) scale(0.958,1)" font-size="16.8" fill="#5e5e5e" text-anchor="end">0.25</text>
<text transform="translate(884.6,166.7) scale(0.958,1)" font-size="16.8" fill="#5e5e5e" text-anchor="end">0.50</text>
<text transform="translate(884.6,108.8) scale(0.958,1)" font-size="16.8" fill="#5e5e5e" text-anchor="end">0.75</text>
<text transform="translate(884.6,50.9) scale(0.958,1)" font-size="16.8" fill="#5e5e5e" text-anchor="end">1.00</text>
<text transform="translate(898.9,534.0) scale(0.965,1)" font-size="16.8" fill="#5e5e5e" text-anchor="middle">−1.00</text>
<text transform="translate(956.9,534.0) scale(0.965,1)" font-size="16.8" fill="#5e5e5e" text-anchor="middle">−0.75</text>
<text transform="translate(1014.8,534.0) scale(0.965,1)" font-size="16.8" fill="#5e5e5e" text-anchor="middle">−0.50</text>
<text transform="translate(1072.8,534.0) scale(0.965,1)" font-size="16.8" fill="#5e5e5e" text-anchor="middle">−0.25</text>
<text transform="translate(1130.7,534.0) scale(0.965,1)" font-size="16.8" fill="#5e5e5e" text-anchor="middle">0.00</text>
<text transform="translate(1188.7,534.0) scale(0.965,1)" font-size="16.8" fill="#5e5e5e" text-anchor="middle">0.25</text>
<text transform="translate(1246.6,534.0) scale(0.965,1)" font-size="16.8" fill="#5e5e5e" text-anchor="middle">0.50</text>
<text transform="translate(1304.6,534.0) scale(0.965,1)" font-size="16.8" fill="#5e5e5e" text-anchor="middle">0.75</text>
<text transform="translate(1362.5,534.0) scale(0.965,1)" font-size="16.8" fill="#5e5e5e" text-anchor="middle">1.00</text>
<text x="1131" y="37" font-size="18.5" fill="#262626" text-anchor="middle">Trend-Emotion-Space (last 20 days)</text>
<text x="1130.3" y="557" font-size="18.3" fill="#262626" text-anchor="middle">anchored_joined_trend_score</text>
<text transform="translate(832.8,278.5) rotate(-90)" font-size="18.3" fill="#262626" text-anchor="middle">emotion_index</text>
<rect x="907.5" y="449.5" width="152.5" height="51.5" rx="3.3" fill="#fff" fill-opacity="0.8" stroke="#cccccc" stroke-width="1"/>
<line x1="914" y1="462.4" x2="947.5" y2="462.4" stroke="#ffd700" stroke-width="2.8" stroke-linecap="round"/>
<text transform="translate(960.8,468.2) scale(0.975,1)" font-size="16.8" fill="#262626" text-anchor="start">EI = ATS - 1</text>
<line x1="914" y1="485.5" x2="947.5" y2="485.5" stroke="#ffd700" stroke-width="2.8" stroke-linecap="round"/>
<text transform="translate(960.8,491.3) scale(0.975,1)" font-size="16.8" fill="#262626" text-anchor="start">EI = ATS + 1</text>
</g>
</svg>
</body></html>
